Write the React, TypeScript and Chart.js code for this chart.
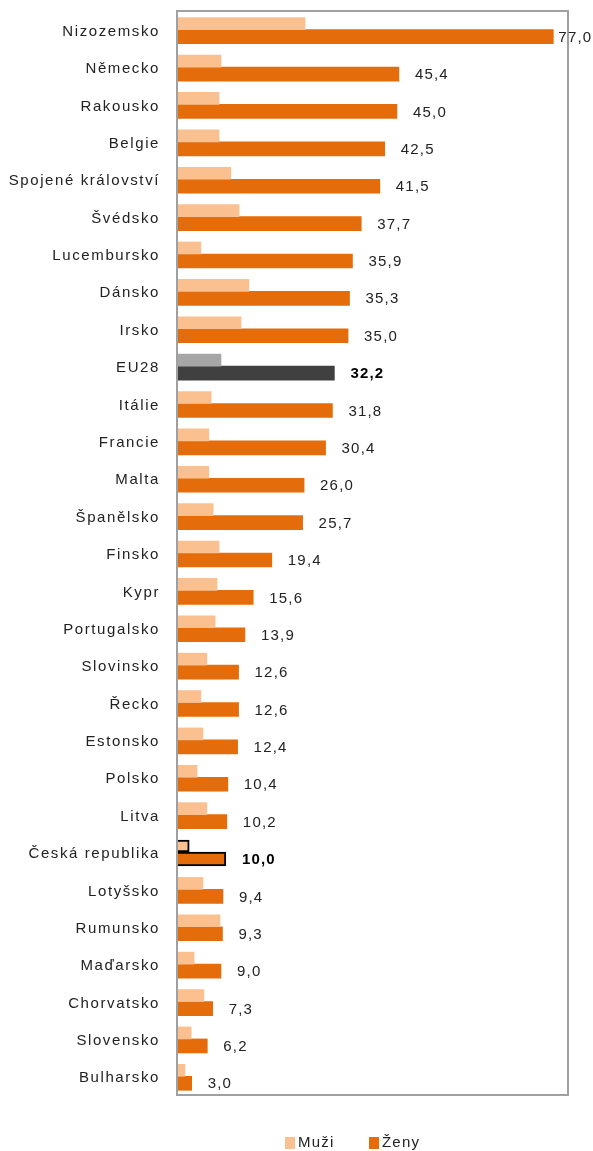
import React, { useEffect, useRef } from "react";
import { Chart, registerables } from "chart.js";

Chart.register(...registerables);

const categories = [
  "Nizozemsko", "Německo", "Rakousko", "Belgie", "Spojené království", "Švédsko",
  "Lucembursko", "Dánsko", "Irsko", "EU28", "Itálie", "Francie", "Malta", "Španělsko",
  "Finsko", "Kypr", "Portugalsko", "Slovinsko", "Řecko", "Estonsko", "Polsko", "Litva",
  "Česká republika", "Lotyšsko", "Rumunsko", "Maďarsko", "Chorvatsko", "Slovensko", "Bulharsko",
];
const muzi = [
  26.2, 9.0, 8.6, 8.6, 11.0, 12.7, 4.9, 14.7, 13.1, 9.0, 7.0, 6.5, 6.5, 7.4,
  8.6, 8.2, 7.8, 6.1, 4.9, 5.3, 4.1, 6.1, 2.5, 5.3, 8.8, 3.5, 5.5, 2.9, 1.6,
];
const zeny = [
  77.0, 45.4, 45.0, 42.5, 41.5, 37.7, 35.9, 35.3, 35.0, 32.2, 31.8, 30.4, 26.0, 25.7,
  19.4, 15.6, 13.9, 12.6, 12.6, 12.4, 10.4, 10.2, 10.0, 9.4, 9.3, 9.0, 7.3, 6.2, 3.0,
];
const seriesNames = ["Muži", "Ženy"];
const highlightEU = "EU28";
const highlightCZ = "Česká republika";

const FONT = "'Liberation Sans', Arial, sans-serif";

export default function App() {
  const ref = useRef<HTMLCanvasElement | null>(null);
  useEffect(() => {
    if (!ref.current) return;
    const muziColors = categories.map((c) => (c === highlightEU ? "#A6A6A6" : "#FAC090"));
    const zenyColors = categories.map((c) => (c === highlightEU ? "#404040" : "#E46C0A"));
    const borderCols = categories.map((c) => (c === highlightCZ ? "#000000" : "rgba(0,0,0,0)"));
    const borderW = categories.map((c) => (c === highlightCZ ? 2 : 0));

    const boxPlugin = {
      id: "boxPlugin",
      beforeDraw(chart: any) {
        (chart.ctx as any).letterSpacing = "1.6px";
      },
      afterDatasetsDraw(chart: any) {
        const { ctx, chartArea } = chart;
        ctx.save();
        (ctx as any).letterSpacing = "0px";
        ctx.strokeStyle = "#A0A0A0";
        ctx.lineWidth = 2;
        ctx.strokeRect(chartArea.left, chartArea.top, chartArea.right - chartArea.left, chartArea.bottom - chartArea.top);
        // value labels
        const meta = chart.getDatasetMeta(1);
        ctx.textBaseline = "middle";
        ctx.textAlign = "left";
        (ctx as any).letterSpacing = "1.2px";
        meta.data.forEach((bar: any, i: number) => {
          const bold = categories[i] === highlightEU || categories[i] === highlightCZ;
          ctx.font = (bold ? "bold " : "") + "15px " + FONT;
          ctx.fillStyle = bold ? "#000" : "#222";
          const txt = zeny[i].toFixed(1).replace(".", ",");
          const w = ctx.measureText(txt).width;
          let x = bar.x + 16;
          if (x + w > 591) x = bar.x + 5;
          ctx.fillText(txt, x, bar.y + 1);
        });
        // legend
        const ly = 1143;
        const items = [
          { x: 285, color: "#FAC090", label: seriesNames[0] },
          { x: 369, color: "#E46C0A", label: seriesNames[1] },
        ];
        ctx.font = "15px " + FONT;
        items.forEach((it) => {
          ctx.fillStyle = it.color;
          ctx.fillRect(it.x, ly - 6, 10, 12);
          ctx.fillStyle = "#222";
          ctx.fillText(it.label, it.x + 13, ly);
        });
        ctx.restore();
      },
      afterDraw(chart: any) {
        (chart.ctx as any).letterSpacing = "0px";
      },
    };

    const chart = new Chart(ref.current, {
      type: "bar",
      data: {
        labels: categories,
        datasets: [
          {
            label: seriesNames[0],
            data: muzi,
            backgroundColor: muziColors,
            borderColor: borderCols,
            borderWidth: borderW,
            barThickness: 12,
          } as any,
          {
            label: seriesNames[1],
            data: zeny,
            backgroundColor: zenyColors,
            borderColor: borderCols,
            borderWidth: borderW,
            barThickness: 14,
          } as any,
        ],
      },
      options: {
        indexAxis: "y",
        animation: false,
        responsive: false,
        maintainAspectRatio: false,
        layout: { padding: { top: 11, right: 25, bottom: 56, left: 0 } },
        plugins: { legend: { display: false }, tooltip: { enabled: false } },
        scales: {
          x: { display: false, min: 0, max: 80 },
          y: {
            grid: { display: false, drawTicks: false },
            border: { display: false },
            ticks: {
              autoSkip: false,
              padding: 17,
              labelOffset: 2,
              color: "#222",
              font: { size: 15, family: FONT },
            },
            afterFit: (scale: any) => {
              scale.width = 177;
              scale.paddingTop = 0;
              scale.paddingBottom = 0;
            },
          },
        },
      },
      plugins: [boxPlugin],
    });
    return () => chart.destroy();
  }, []);
  return (
    <div style={{ position: "absolute", left: 0, top: 0, width: 593, height: 1151, background: "#fff" }}>
      <canvas ref={ref} width={593} height={1151} style={{ width: 593, height: 1151 }} />
    </div>
  );
}
